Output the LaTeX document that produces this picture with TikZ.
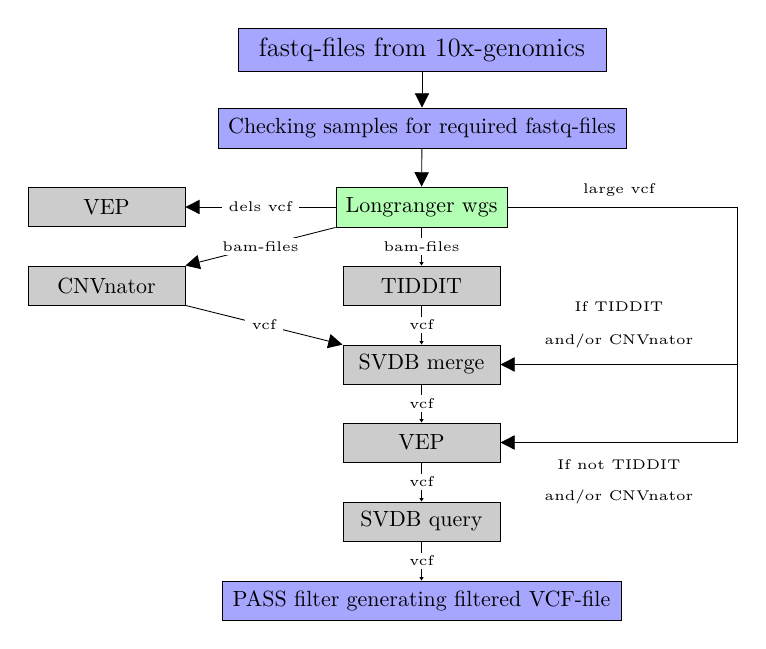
\documentclass[tikz,border=0pt]{standalone}
\usepackage{fontspec}
\newfontfamily\lblfont{lmroman5-regular.otf}
\usetikzlibrary{arrows.meta}
\definecolor{boxblue}{RGB}{166,166,255}
\definecolor{boxgreen}{RGB}{179,255,179}
\definecolor{boxgray}{RGB}{204,204,204}
\begin{document}
\begin{tikzpicture}[x=0.455pt,y=-0.455pt,
  base/.style={draw=black,line width=0.4pt,inner xsep=2pt,inner ysep=0pt,font=\normalsize},
  bluebox/.style={base,fill=boxblue},
  greenbox/.style={base,fill=boxgreen,minimum width=77.8pt,minimum height=18.2pt},
  graybox/.style={base,fill=boxgray,minimum width=71.4pt,minimum height=17.7pt},
  lbl/.style={font=\lblfont\fontsize{6.4}{8}\selectfont,fill=white,inner xsep=3pt,inner ysep=1.5pt},
  freelbl/.style={font=\lblfont\fontsize{6.4}{8}\selectfont,inner sep=1pt},
  conn/.style={line width=0.4pt},
  bigarrow/.style={conn,-{Triangle[length=6.5pt,width=6.5pt]}},
  smallarrow/.style={conn,-{Triangle[length=1.6pt,width=1.8pt]}}
]
\useasboundingbox (0,0) rectangle (766,649);

\node[bluebox,font=\large,minimum width=167.4pt,minimum height=19.6pt] (top) at (422,49.5) {fastq-files from 10x-genomics};
\node[bluebox,minimum width=185.6pt,minimum height=18.2pt] (check) at (422,128) {Checking samples for required fastq-files};
\node[greenbox] (lr) at (421.5,207) {Longranger wgs};
\node[graybox] (vepl) at (106.5,207) {VEP};
\node[graybox] (cnv) at (106.5,285.5) {CNVnator};
\node[graybox] (tid) at (421.5,285.5) {TIDDIT};
\node[graybox] (merge) at (421.5,364.5) {SVDB merge};
\node[graybox] (vep) at (421.5,442.5) {VEP};
\node[graybox] (query) at (421.5,521.5) {SVDB query};
\node[bluebox,minimum width=181.5pt,minimum height=17.7pt] (pass) at (421.5,600.5) {PASS filter generating filtered VCF-file};

\coordinate (c2) at (737,364.5);

\draw[bigarrow] (top) -- (check);
\draw[bigarrow] (check) -- (lr);
\draw[bigarrow] (lr) -- node[lbl] {dels vcf} (vepl);
\draw[bigarrow] (lr.south west) -- node[lbl] {bam-files} (cnv.north east);
\draw[bigarrow] (cnv.south east) -- node[lbl] {vcf} (merge.north west);
\draw[smallarrow] (lr) -- node[lbl] {bam-files} (tid);
\draw[smallarrow] (tid) -- node[lbl] {vcf} (merge);
\draw[smallarrow] (merge) -- node[lbl] {vcf} (vep);
\draw[smallarrow] (vep) -- node[lbl] {vcf} (query);
\draw[smallarrow] (query) -- node[lbl] {vcf} (pass);

\draw[bigarrow] (lr.east) -| (c2) -- (merge.east);
\draw[bigarrow] (c2) |- (vep.east);

\node[freelbl] (lg) at (619,190) {large vcf};
\node[freelbl] (if1) at (619,307) {If TIDDIT};
\node[freelbl] (if2) at (619,341) {and/or CNVnator};
\node[freelbl] (in1) at (619,465) {If not TIDDIT};
\node[freelbl] (in2) at (619,497) {and/or CNVnator};
\end{tikzpicture}
\end{document}
